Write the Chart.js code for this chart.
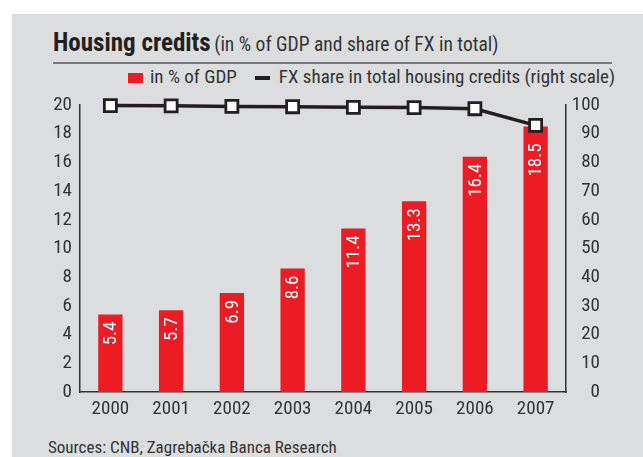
<!DOCTYPE html>
<html>
<head>
<meta charset="utf-8">
<script src="https://cdn.jsdelivr.net/npm/chart.js@4"></script>
<style>
  html, body { margin: 0; padding: 0; background: #ffffff; }
  body { width: 643px; height: 457px; position: relative; overflow: hidden;
         font-family: "Liberation Sans Narrow", "Roboto Condensed", "DejaVu Sans Condensed", sans-serif; color: #231f20; }
  #panel { position: absolute; left: 12px; top: 14px; right: 0; bottom: 0; background: #dcdddf; }
  #title { position: absolute; left: 53px; top: 31px; white-space: nowrap; line-height: 24px; }
  #title b { font-size: 25px; font-weight: bold; }
  #title span { font-size: 19.5px; color: #333; }
  #rule { position: absolute; left: 53px; top: 62px; width: 559px; height: 2px; background: #77787b; }
  #legend { position: absolute; left: 128px; top: 66px; height: 22px; white-space: nowrap; font-size: 19px; line-height: 22px; color: #333; }
  #legend .sw { display: inline-block; vertical-align: middle; }
  #source { position: absolute; left: 48px; top: 437px; font-size: 17px; line-height: 20px; color: #333; white-space: nowrap; }
  canvas { position: absolute; left: 0; top: 0; }
</style>
</head>
<body>
<div id="panel"></div>
<div id="title"><b>Housing credits</b> <span>(in % of GDP and share of FX in total)</span></div>
<div id="rule"></div>
<div id="legend">
  <span class="sw" style="width:15px;height:10px;background:#ed1c24;margin-right:7px;"></span>in % of GDP<span class="sw" style="width:15px;height:4px;background:#231f20;margin:0 9px 0 18px;"></span>FX share in total housing credits (right scale)
</div>
<div id="source">Sources: CNB, Zagrebačka Banca Research</div>
<canvas id="c" width="643" height="457"></canvas>
<script>
// Housing credits in % of GDP (bars) and FX share in total housing credits (line, right scale)
const years = ['2000', '2001', '2002', '2003', '2004', '2005', '2006', '2007'];
const creditsPctGdp = [5.4, 5.7, 6.9, 8.6, 11.4, 13.3, 16.4, 18.5];
const fxSharePct = [99.8, 99.7, 99.5, 99.4, 99.2, 99.1, 98.7, 92.9];

const FONT = '"Liberation Sans Narrow", "Roboto Condensed", "DejaVu Sans Condensed", sans-serif';
Chart.defaults.font.family = FONT;
Chart.defaults.font.size = 19;
Chart.defaults.color = '#333333';

// White value labels written vertically inside the top of each bar
const barLabels = {
  id: 'barLabels',
  afterDatasetsDraw(chart) {
    const ctx = chart.ctx;
    const bars = chart.getDatasetMeta(0).data;
    const pts = chart.getDatasetMeta(1).data;
    ctx.save();
    ctx.fillStyle = '#ffffff';
    ctx.font = '19px ' + FONT;
    ctx.textAlign = 'right';
    ctx.textBaseline = 'middle';
    bars.forEach((bar, i) => {
      let start = bar.y + 7;
      const p = pts[i];
      if (p && p.y + 12 > bar.y) start = Math.max(start, p.y + 18);
      ctx.save();
      ctx.translate(bar.x + 1, start);
      ctx.rotate(-Math.PI / 2);
      ctx.fillText(String(creditsPctGdp[i]), 0, 0);
      ctx.restore();
    });
    ctx.restore();
  }
};

new Chart(document.getElementById('c'), {
  data: {
    labels: years,
    datasets: [
      {
        type: 'bar',
        label: 'in % of GDP',
        data: creditsPctGdp,
        backgroundColor: '#ed1c24',
        categoryPercentage: 1,
        barPercentage: 0.4,
        yAxisID: 'y',
        order: 2
      },
      {
        type: 'line',
        label: 'FX share in total housing credits (right scale)',
        data: fxSharePct,
        borderColor: '#231f20',
        borderWidth: 3.5,
        pointStyle: 'rect',
        pointRadius: 8.5,
        pointBorderWidth: 2.8,
        pointBackgroundColor: '#ffffff',
        pointBorderColor: '#231f20',
        tension: 0,
        clip: false,
        yAxisID: 'y2',
        order: 1
      }
    ]
  },
  options: {
    responsive: false,
    animation: false,
    layout: { padding: { top: 105, bottom: 25, left: 0, right: 43 } },
    plugins: { legend: { display: false }, tooltip: { enabled: false } },
    scales: {
      x: {
        offset: true,
        grid: { display: false, drawTicks: false },
        border: { display: true, color: '#333333', width: 1.5 },
        ticks: { padding: 6, color: '#333333' },
        afterFit(s) { s.height = 40; }
      },
      y: {
        position: 'left',
        min: 0, max: 20,
        grid: { display: false, drawTicks: false },
        border: { display: true, color: '#333333', width: 1.5 },
        ticks: { stepSize: 2, padding: 8, color: '#333333' },
        afterFit(s) { s.width = 80; }
      },
      y2: {
        position: 'right',
        min: 0, max: 100,
        grid: { display: false, drawTicks: false },
        border: { display: true, color: '#333333', width: 1.5 },
        ticks: { stepSize: 10, padding: 8, crossAlign: 'far', color: '#333333' },
        afterFit(s) { s.width = 34; }
      }
    }
  },
  plugins: [barLabels]
});
</script>
</body>
</html>
